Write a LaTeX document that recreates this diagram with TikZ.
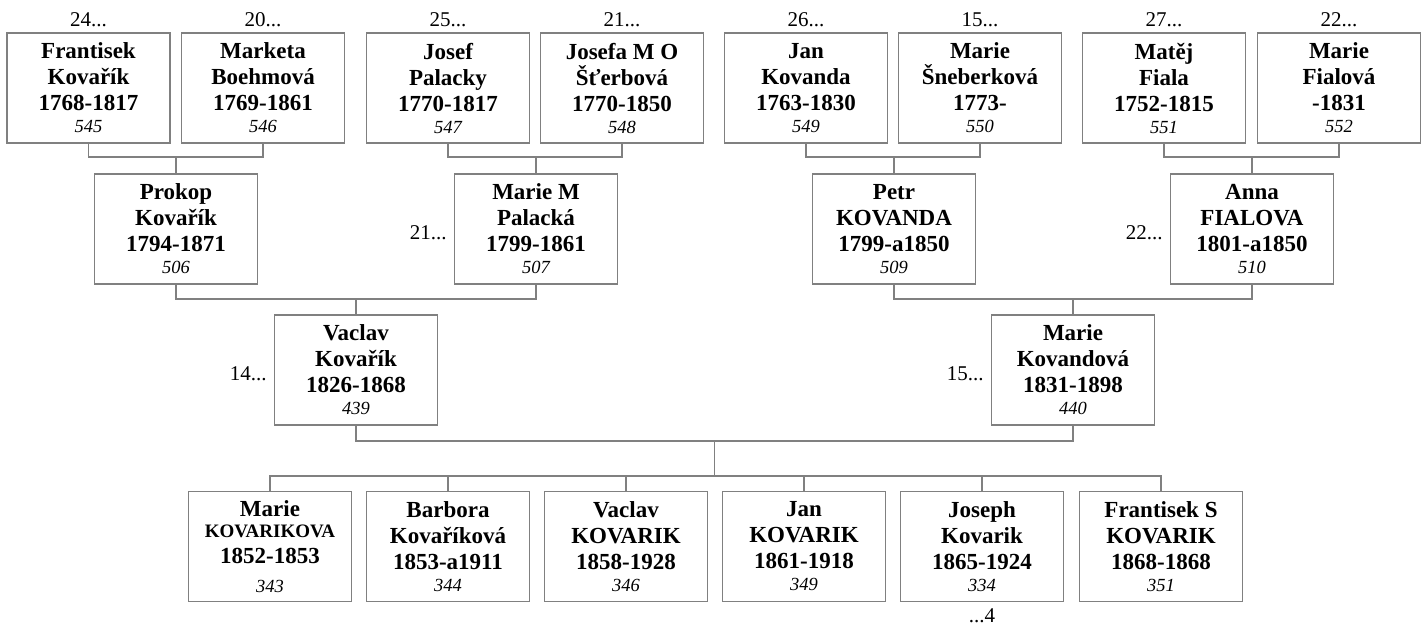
\documentclass[tikz,border=0pt]{standalone}
\usepackage{fontspec}
\setmainfont{Liberation Serif}
\definecolor{boxgray}{RGB}{128,128,128}
\newcommand{\idn}[1]{{\fontsize{18.5}{20}\selectfont\mdseries\itshape #1}}
\newcommand{\smallcap}[1]{{\fontsize{19}{20}\selectfont #1}}
\tikzset{
  pbox/.style={draw=boxgray, line width=1.3pt, minimum width=163pt, minimum height=110pt,
    inner sep=0pt, align=center, font=\fontsize{23}{26}\selectfont\bfseries},
  link/.style={draw=boxgray, line width=1.3pt},
  lbl/.style={font=\fontsize{21}{24}\selectfont, inner sep=0pt}
}
\begin{document}
\begin{tikzpicture}[x=1pt,y=-1pt]
\useasboundingbox[fill=white] (0,0) rectangle (1424,626);
% generation 1
\node[pbox] (p545) at (88.5,88) {Frantisek\\Kovařík\\1768-1817\\[-4pt]\idn{545}};
\node[pbox] (p546) at (263,88) {Marketa\\Boehmová\\1769-1861\\[-4pt]\idn{546}};
\node[pbox] (p547) at (448,88) {Josef\\Palacky\\1770-1817\\[-4pt]\idn{547}};
\node[pbox] (p548) at (622,88) {Josefa M O\\Šťerbová\\1770-1850\\[-4pt]\idn{548}};
\node[pbox] (p549) at (806,88) {Jan\\Kovanda\\1763-1830\\[-4pt]\idn{549}};
\node[pbox] (p550) at (980,88) {Marie\\Šneberková\\1773-\\[-4pt]\idn{550}};
\node[pbox] (p551) at (1164,88) {Matěj\\Fiala\\1752-1815\\[-4pt]\idn{551}};
\node[pbox] (p552) at (1339,88) {Marie\\Fialová\\-1831\\[-4pt]\idn{552}};
% labels above generation 1
\node[lbl, anchor=base] (l545) at (88.5,27) {24...};
\node[lbl, anchor=base] (l546) at (263,27) {20...};
\node[lbl, anchor=base] (l547) at (448,27) {25...};
\node[lbl, anchor=base] (l548) at (622,27) {21...};
\node[lbl, anchor=base] (l549) at (806,27) {26...};
\node[lbl, anchor=base] (l550) at (980,27) {15...};
\node[lbl, anchor=base] (l551) at (1164,27) {27...};
\node[lbl, anchor=base] (l552) at (1339,27) {22...};
% generation 2
\node[pbox] (p506) at (176,229) {Prokop\\Kovařík\\1794-1871\\[-4pt]\idn{506}};
\node[pbox] (p507) at (536,229) {Marie M\\Palacká\\1799-1861\\[-4pt]\idn{507}};
\node[pbox] (p509) at (894,229) {Petr\\KOVANDA\\1799-a1850\\[-4pt]\idn{509}};
\node[pbox] (p510) at (1252,229) {Anna\\FIALOVA\\1801-a1850\\[-4pt]\idn{510}};
\node[lbl, anchor=base east] (l507) at ([xshift=-7pt]p507.west |- 0,239) {21...};
\node[lbl, anchor=base east] (l510) at ([xshift=-7pt]p510.west |- 0,239) {22...};
% generation 3
\node[pbox] (p439) at (356,370) {Vaclav\\Kovařík\\1826-1868\\[-4pt]\idn{439}};
\node[pbox] (p440) at (1073,370) {Marie\\Kovandová\\1831-1898\\[-4pt]\idn{440}};
\node[lbl, anchor=base east] (l439) at ([xshift=-7pt]p439.west |- 0,380) {14...};
\node[lbl, anchor=base east] (l440) at ([xshift=-7pt]p440.west |- 0,380) {15...};
% children
\node[pbox] (p343) at (270,546.5) {Marie\\[-5pt]\smallcap{KOVARIKOVA}\\1852-1853\\[3pt]\idn{343}};
\node[pbox] (p344) at (448,546.5) {Barbora\\Kovaříková\\1853-a1911\\[-4pt]\idn{344}};
\node[pbox] (p346) at (626,546.5) {Vaclav\\KOVARIK\\1858-1928\\[-4pt]\idn{346}};
\node[pbox] (p349) at (804,546.5) {Jan\\KOVARIK\\1861-1918\\[-4pt]\idn{349}};
\node[pbox] (p334) at (982,546.5) {Joseph\\Kovarik\\1865-1924\\[-4pt]\idn{334}};
\node[pbox] (p351) at (1161,546.5) {Frantisek S\\KOVARIK\\1868-1868\\[-4pt]\idn{351}};
\node[lbl, anchor=base] (l334) at (982,622) {...4};
% junction coordinates
\coordinate (j1) at (176,157);
\coordinate (j2) at (536,157);
\coordinate (j3) at (894,157);
\coordinate (j4) at (1252,157);
\coordinate (j5) at (356,299);
\coordinate (j6) at (1073,299);
\coordinate (j7) at (714.5,441);
\coordinate (j8) at (714.5,476);
% connectors gen1 -> gen2
\draw[link] (p545.south) |- (j1) -| (p546.south);
\draw[link] (j1) -- (p506.north);
\draw[link] (p547.south) |- (j2) -| (p548.south);
\draw[link] (j2) -- (p507.north);
\draw[link] (p549.south) |- (j3) -| (p550.south);
\draw[link] (j3) -- (p509.north);
\draw[link] (p551.south) |- (j4) -| (p552.south);
\draw[link] (j4) -- (p510.north);
% gen2 -> gen3
\draw[link] (p506.south) |- (j5) -| (p507.south);
\draw[link] (j5) -- (p439.north);
\draw[link] (p509.south) |- (j6) -| (p510.south);
\draw[link] (j6) -- (p440.north);
% gen3 -> children
\draw[link] (p439.south) |- (j7) -| (p440.south);
\draw[link] (j7) -- (j8);
\draw[link] (p343.north) |- (j8) -| (p351.north);
\draw[link] (j8 -| p344.north) -- (p344.north);
\draw[link] (j8 -| p346.north) -- (p346.north);
\draw[link] (j8 -| p349.north) -- (p349.north);
\draw[link] (j8 -| p334.north) -- (p334.north);
\end{tikzpicture}
\end{document}
